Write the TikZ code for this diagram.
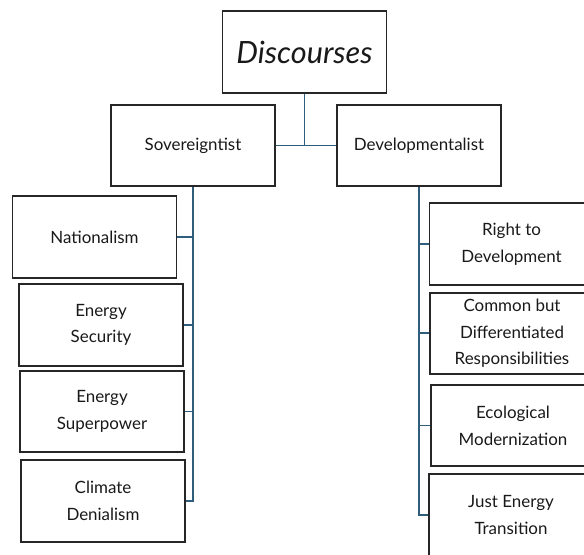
\documentclass[tikz,border=0pt]{standalone}
\usepackage{fontspec}
\setmainfont{Lato}
\definecolor{treeblue}{HTML}{2E5E7B}

\begin{document}
\begin{tikzpicture}[x=0.75pt,y=-0.75pt]
	\path[use as bounding box,clip] (0,0) rectangle (584,555);
	\fill[white] (0,0) rectangle (584,555);

	\begin{scope}[every node/.style={rectangle,draw=black!85,line width=1.4pt,
		minimum width=123pt,minimum height=61pt,align=center,text=black!90,
		font=\fontsize{12.7}{20}\selectfont}]
		\node [font=\fontsize{23}{26}\selectfont\itshape] (Discourses) at (304.5,52) {Discourses};
		\node (Sovereign) at (193,145.5) {Sovereigntist};
		\node (Develop) at (419,145.5) {Developmentalist};

		\node (Nation) at (94.5,237) {Nationalism};
		\node (EnSecurity) at (101,325) {Energy\\Security};
		\node (EnSuperpower) at (102,411.5) {Energy\\Superpower};
		\node (ClimDenial) at (103,501) {Climate\\Denialism};

		\node (RightDev) at (511.5,244) {Right to\\Development};
		\node (CBDR) at (512,333.3) {Common but\\Differentiated\\Responsibilities};
		\node (EcoModern) at (513,425.5) {Ecological\\Modernization};
		\node (JustTrans) at (511,515) {Just Energy\\Transition};
	\end{scope}

	\begin{scope}[line width=1.4pt,treeblue]
		\draw (Discourses.south) -- (Discourses.south |- Sovereign.east);
		\draw (Sovereign.east) -- (Develop.west);

		\draw (Nation.east) -| (Sovereign.south);
		\draw (EnSecurity.east) -| (Sovereign.south);
		\draw (EnSuperpower.east) -| (Sovereign.south);
		\draw (ClimDenial.east) -| (Sovereign.south);

		\draw (RightDev.west) -| (Develop.south);
		\draw (CBDR.west) -| (Develop.south);
		\draw (EcoModern.west) -| (Develop.south);
		\draw (JustTrans.west) -| (Develop.south);
	\end{scope}
\end{tikzpicture}
\end{document}
